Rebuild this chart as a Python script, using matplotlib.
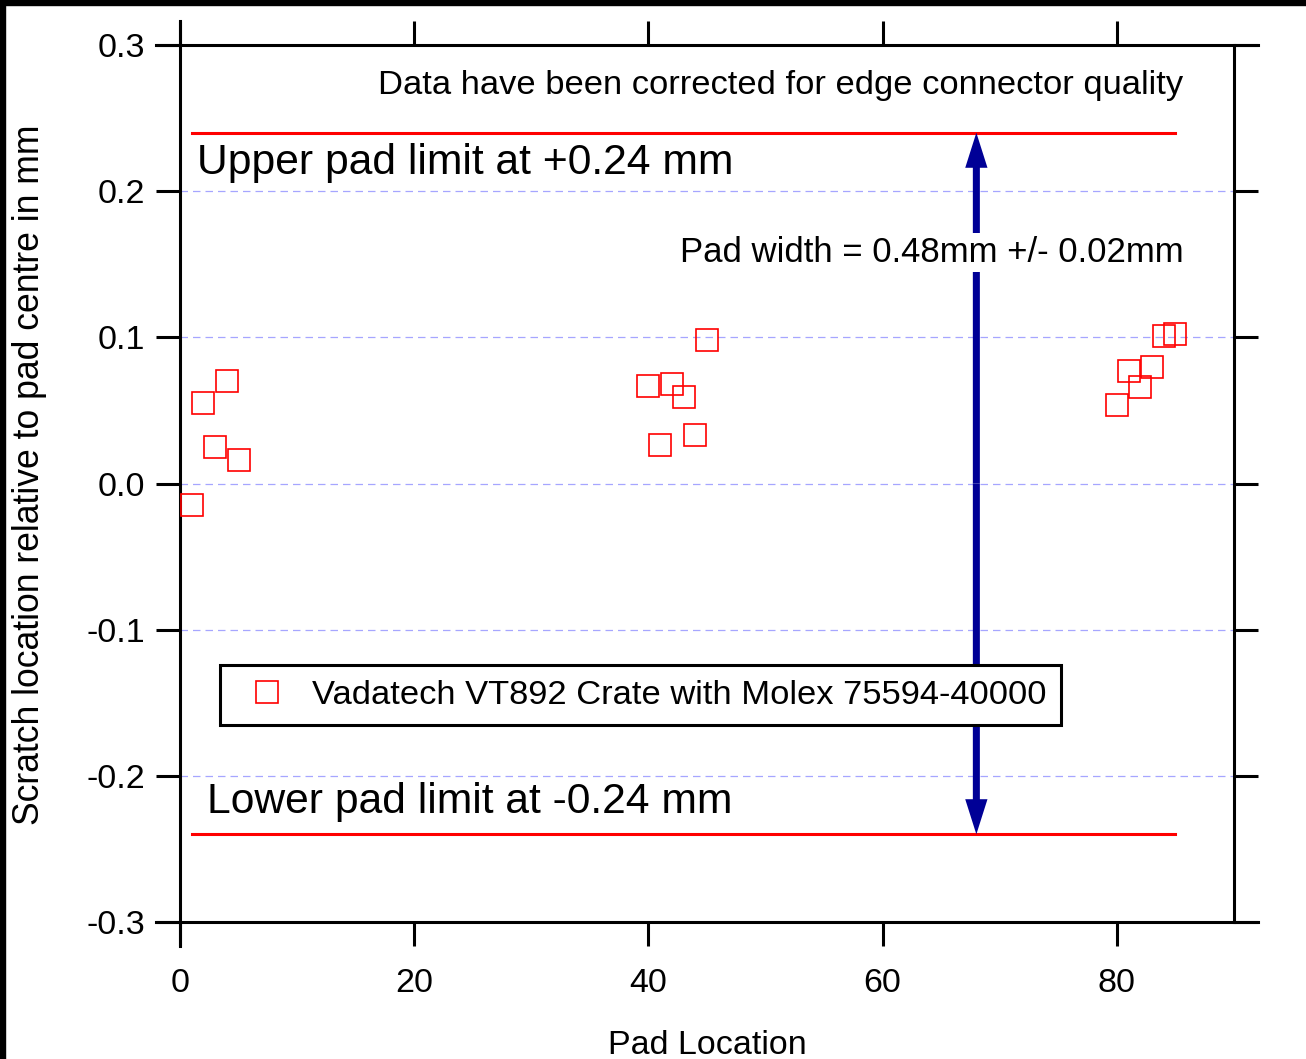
#!/usr/bin/env python3

import numpy as np
import matplotlib
matplotlib.use('Agg')
import matplotlib.pyplot as plt
from matplotlib.patches import Rectangle

# measured scratch positions, three groups of pads
pad_location = [1, 2, 3, 4, 5,
                40, 41, 42, 43, 44, 45,
                80, 81, 82, 83, 84, 85]
scratch_offset = [-0.015, 0.055, 0.025, 0.070, 0.016,
                  0.067, 0.026, 0.068, 0.059, 0.033, 0.098,
                  0.054, 0.077, 0.066, 0.080, 0.101, 0.102]

limit_values = [0.24, -0.24]
limit_span = [1, 85]
arrow_x = 68
series_label = 'Vadatech VT892 Crate with Molex 75594-40000'

x_ticks = [0, 20, 40, 60, 80]
y_ticks = [-0.3, -0.2, -0.1, 0.0, 0.1, 0.2, 0.3]


def main():
	plt.rcParams['font.family'] = ['Liberation Sans', 'DejaVu Sans']
	plt.rcParams['axes.unicode_minus'] = False

	W, H = 1306, 1059
	fig = plt.figure(figsize=(W / 100, H / 100), dpi=100)
	# black strips on the top and left edge of the original image
	fig.patches.append(Rectangle((0, 1 - 5 / H), 1, 5 / H, transform=fig.transFigure, color='black', zorder=0))
	fig.patches.append(Rectangle((0, 0), 5 / W, 1, transform=fig.transFigure, color='black', zorder=0))

	ax = fig.add_axes([180 / W, 137 / H, 1054 / W, 877 / H])
	ax.set_xlim(0, 90)
	ax.set_ylim(-0.3, 0.3)

	tick_len = 17.3
	lw = 2.2
	for s in ax.spines.values():
		s.set_linewidth(lw)
	dx = 24 / (1054 / 90)
	dy = 24 / (877 / 0.6)
	ax.spines['left'].set_bounds(-0.3 - dy, 0.3 + dy)
	ax.spines['bottom'].set_bounds(-dx, 90 + dx)
	ax.spines['top'].set_bounds(-dx, 90 + dx)

	ax.set_xticks(x_ticks)
	ax.set_yticks(y_ticks)
	ax.set_yticklabels(['%.1f' % v for v in y_ticks])
	ax.tick_params(direction='out', length=tick_len, width=lw, labelsize=24.5,
		top=True, right=True, labeltop=False, labelright=False)
	ax.tick_params(axis='x', pad=16)
	ax.tick_params(axis='y', pad=8)

	ax.yaxis.grid(True, linestyle=(0, (6, 4)), color='#a6a6ff', linewidth=0.9)
	ax.set_axisbelow(True)

	for v in limit_values:
		ax.plot(limit_span, [v, v], color='red', linewidth=2.2, zorder=2)

	# double headed arrow across the pad width
	for v in limit_values:
		ax.arrow(arrow_x, 0, 0, v, width=0.6, head_width=1.9, head_length=0.024,
			length_includes_head=True, color='#000096', zorder=3, linewidth=0)

	ax.plot(pad_location, scratch_offset, 's', markersize=15.8, markerfacecolor='none',
		markeredgecolor='red', markeredgewidth=1.2, linestyle='none', label=series_label, zorder=4)

	ax.text(1003 / 1054 * 90, 0.272, 'Data have been corrected for edge connector quality',
		ha='right', va='center', fontsize=24.8)
	ax.text(1.45, 0.219, 'Upper pad limit at +0.24 mm', ha='left', va='center', fontsize=30.7)
	ax.text(2.3, -0.218, 'Lower pad limit at -0.24 mm', ha='left', va='center', fontsize=30.7)
	ax.text(85.7, 0.158, 'Pad width = 0.48mm +/- 0.02mm', ha='right', va='center', fontsize=25,
		bbox=dict(facecolor='white', edgecolor='none', pad=2), zorder=5)

	leg = ax.legend(loc='upper left', bbox_to_anchor=(40 / 1054, 257 / 877), borderaxespad=0,
		fontsize=24.8, fancybox=False, framealpha=1, edgecolor='black', handlelength=1.9,
		handletextpad=0.36, borderpad=0.42)
	leg.get_frame().set_linewidth(2.2)
	leg.set_zorder(6)

	ax.set_xlabel('Pad Location', fontsize=24.5)
	ax.set_ylabel('Scratch location relative to pad centre in mm', fontsize=25.6)
	ax.xaxis.set_label_coords(0.5, -0.123)
	ax.yaxis.set_label_coords(-0.126, 0.51)

	fig.savefig('out.png', dpi=100)


if __name__ == '__main__':
	main()
